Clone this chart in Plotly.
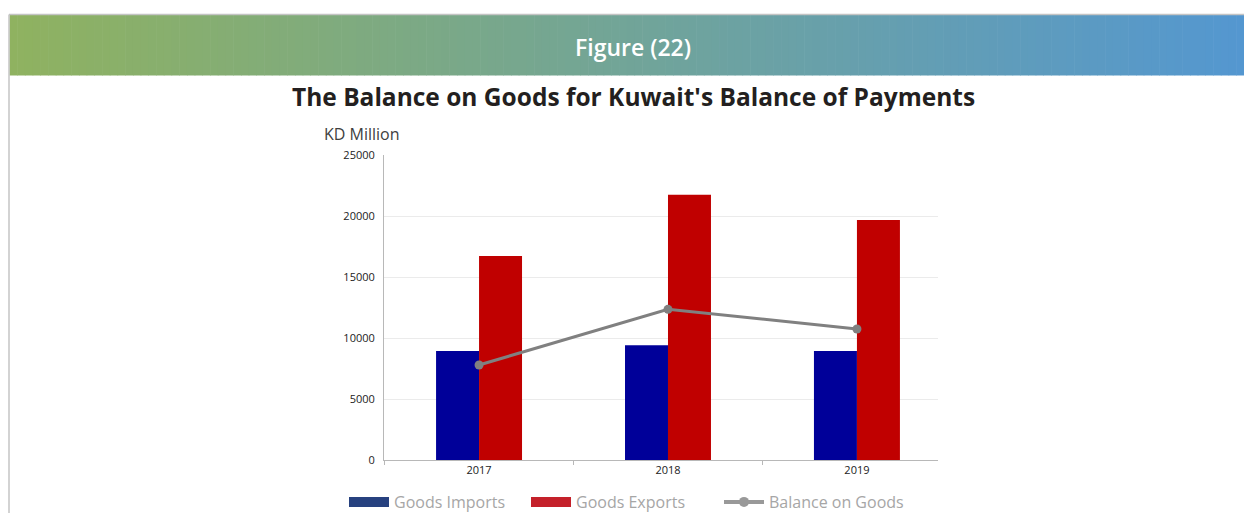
import plotly.graph_objects as go

# Kuwait balance of payments, goods account (KD million)
years = ["2017", "2018", "2019"]
goods_imports = [8930, 9400, 8930]
goods_exports = [16720, 21750, 19670]
balance_on_goods = [7790, 12350, 10740]

y_ticks = [0, 5000, 10000, 15000, 20000, 25000]

IMPORT_BAR = "#000099"
EXPORT_BAR = "#c00000"
IMPORT_KEY = "#27417f"
EXPORT_KEY = "#c4212a"
LINE_GREY = "#808080"
FONT = "Open Sans"

W, H = 1244, 513
PL, PR, PT, PB = 384, 938, 155, 460


def px(x):
    return (x - PL) / (PR - PL)


def py(y):
    return (PB - y) / (PB - PT)


fig = go.Figure()

fig.add_trace(go.Bar(x=years, y=goods_imports, name="Goods Imports",
                     marker=dict(color=IMPORT_BAR, line=dict(width=0)),
                     showlegend=False))
fig.add_trace(go.Bar(x=years, y=goods_exports, name="Goods Exports",
                     marker=dict(color=EXPORT_BAR, line=dict(width=0)),
                     showlegend=False))
fig.add_trace(go.Scatter(x=years, y=balance_on_goods, name="Balance on Goods",
                         mode="lines+markers",
                         line=dict(color=LINE_GREY, width=3),
                         marker=dict(color=LINE_GREY, size=9),
                         showlegend=False))

# legend keys: wide flat swatches for the bars, line+dot for the balance
fig.add_trace(go.Scatter(x=[None], y=[None], mode="lines", name="Goods Imports",
                         line=dict(color=IMPORT_KEY, width=10), legend="legend"))
fig.add_trace(go.Scatter(x=[None], y=[None], mode="lines", name="Goods Exports",
                         line=dict(color=EXPORT_KEY, width=10), legend="legend"))
fig.add_trace(go.Scatter(x=[None], y=[None], mode="lines+markers", name="Balance on Goods",
                         line=dict(color="#999999", width=4),
                         marker=dict(color="#999999", size=10), legend="legend2"))

shapes = []
# gradient banner, built from thin vertical strips
left_rgb = (143, 178, 96)
right_rgb = (84, 151, 208)
x0, x1 = 9.5, 1244
n = 160
for i in range(n):
    t = i / (n - 1)
    c = tuple(round(left_rgb[k] + (right_rgb[k] - left_rgb[k]) * t) for k in range(3))
    a = x0 + (x1 - x0) * i / n
    b = x0 + (x1 - x0) * (i + 1) / n + 0.6
    shapes.append(dict(type="rect", xref="paper", yref="paper",
                       x0=px(a), x1=px(b), y0=py(75.5), y1=py(15),
                       fillcolor="rgb(%d,%d,%d)" % c, line=dict(width=0), layer="below"))
# thin grey frame along the top and left
shapes.append(dict(type="line", xref="paper", yref="paper",
                   x0=px(9), x1=px(1244), y0=py(14.5), y1=py(14.5),
                   line=dict(color="#c4c4c4", width=1.5)))
shapes.append(dict(type="line", xref="paper", yref="paper",
                   x0=px(9), x1=px(9), y0=py(14.5), y1=py(513),
                   line=dict(color="#c4c4c4", width=1.5)))

annotations = [
    dict(text="Figure (22)", xref="paper", yref="paper", x=px(633), y=py(46.5),
         showarrow=False, font=dict(family=FONT, size=23, color="white", weight=600),
         xanchor="center", yanchor="middle"),
    dict(text="<b>The Balance on Goods for Kuwait's Balance of Payments</b>",
         xref="paper", yref="paper", x=px(633), y=py(97), showarrow=False,
         font=dict(family=FONT, size=24.5, color="#231f20"),
         xanchor="center", yanchor="middle"),
    dict(text="KD Million", xref="paper", yref="paper", x=px(322), y=py(134),
         showarrow=False, font=dict(family=FONT, size=16, color="#404040"),
         xanchor="left", yanchor="middle"),
]

legend_font = dict(family=FONT, size=16, color="#a6a6a6")

fig.update_layout(
    width=W, height=H, autosize=False,
    margin=dict(l=PL, r=W - PR, t=PT, b=H - PB, pad=0, autoexpand=False),
    paper_bgcolor="white", plot_bgcolor="white",
    barmode="group", bargap=0.545, bargroupgap=0,
    shapes=shapes, annotations=annotations,
    font=dict(family=FONT, color="#222222"),
    legend=dict(orientation="h", x=px(344), y=py(485), xanchor="left", yanchor="top",
                font=legend_font, itemwidth=40, traceorder="normal",
                entrywidth=127, entrywidthmode="pixels", bgcolor="rgba(0,0,0,0)"),
    legend2=dict(orientation="h", x=px(719), y=py(485), xanchor="left", yanchor="top",
                 font=legend_font, itemwidth=40, bgcolor="rgba(0,0,0,0)"),
    xaxis=dict(type="category", range=[-0.503, 2.429], tickson="boundaries",
               ticks="outside", ticklen=4, tickcolor="#b8b8b8",
               showline=True, linecolor="#b8b8b8", linewidth=1,
               showgrid=False, tickfont=dict(size=11, color="#222222")),
    yaxis=dict(range=[0, 25000], tickvals=y_ticks, tickformat="d", ticks="",
               showline=True, linecolor="#b8b8b8", linewidth=1,
               gridcolor="#ebebeb", gridwidth=1, zeroline=False,
               ticklabelstandoff=6, tickfont=dict(size=11, color="#222222")),
)

fig.write_html("out.html")
